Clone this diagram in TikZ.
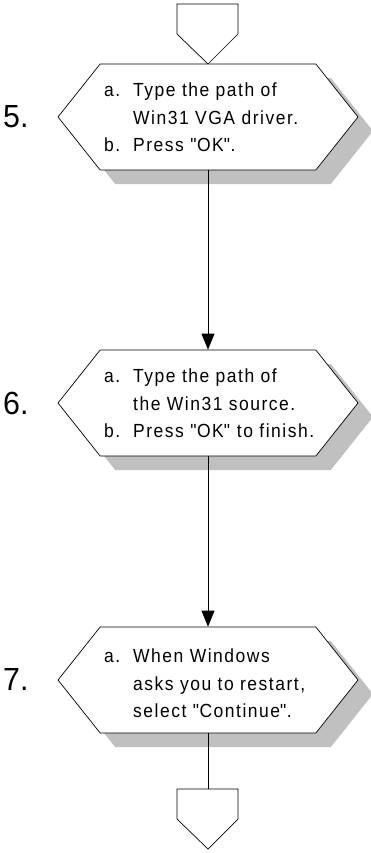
\documentclass[tikz,border=0pt]{standalone}
\usepackage{fontspec}
\setmainfont{Liberation Sans}[LetterSpace=8, FakeStretch=0.92]
\newfontfamily\numfont{Liberation Sans}[FakeStretch=0.95]
\usetikzlibrary{shapes.symbols,shadows,arrows.meta}
\definecolor{shadowgray}{RGB}{192,192,192}
\newcommand{\qq}{\textquotedbl}
\begin{document}
\begin{tikzpicture}[x=1pt,y=-1pt,
  hexbox/.style={signal, signal to=west and east, signal pointer angle=103,
    minimum width=300pt, minimum height=106pt, inner sep=0pt,
    draw=black, fill=white, line width=0.7pt,
    drop shadow={fill=shadowgray, opacity=1, shadow xshift=15pt, shadow yshift=-14pt}},
  offpage/.style={draw=black, fill=white, line width=0.7pt, line join=miter},
  txt/.style={anchor=base west, inner sep=0pt, font=\fontsize{19}{23}\selectfont},
  num/.style={anchor=base west, inner sep=0pt, font=\numfont\fontsize{32}{36}\selectfont},
  flow/.style={line width=0.7pt},
  arr/.style={flow, -{Triangle[length=16pt,width=13pt]}}
]
\useasboundingbox (0,0) rectangle (370,853);

% off-page connectors
\draw[offpage] (177,4) -- (238,4) -- (238,34) -- (208,64) -- (177,34) -- cycle;
\draw[offpage] (177,789) -- (238,789) -- (238,819) -- (208,849) -- (177,819) -- cycle;
\coordinate (botin) at (208,789);

% step boxes
\node[hexbox] (s5) at (208,117) {};
\node[hexbox] (s6) at (208,403) {};
\node[hexbox] (s7) at (208,680) {};

% numbers
\node[num] (n5) at (3,128) {5.};
\node[num] (n6) at (3,414) {6.};
\node[num] (n7) at (3,690) {7.};

% step 5 text
\node[txt] (t5a) at (104,97) {a.};
\node[txt] (t5a1) at (133,97) {Type the path of};
\node[txt] (t5a2) at (133,125) {Win31 VGA driver.};
\node[txt] (t5b) at (104,152) {b.};
\node[txt] (t5b1) at (133,152) {Press \qq OK\qq.};

% step 6 text
\node[txt] (t6a) at (104,382) {a.};
\node[txt] (t6a1) at (133,382) {Type the path of};
\node[txt] (t6a2) at (133,410) {the Win31 source.};
\node[txt] (t6b) at (104,437) {b.};
\node[txt] (t6b1) at (133,437) {Press \qq OK\qq{} to finish.};

% step 7 text
\node[txt] (t7a) at (104,662) {a.};
\node[txt] (t7a1) at (133,662) {When Windows};
\node[txt] (t7a2) at (133,690) {asks you to restart,};
\node[txt] (t7a3) at (133,717) {select \qq Continue\qq.};

% connectors
\draw[arr] (s5.south) -- (s6.north);
\draw[arr] (s6.south) -- (s7.north);
\draw[flow] (s7.south) -- (botin);
\end{tikzpicture}
\end{document}
